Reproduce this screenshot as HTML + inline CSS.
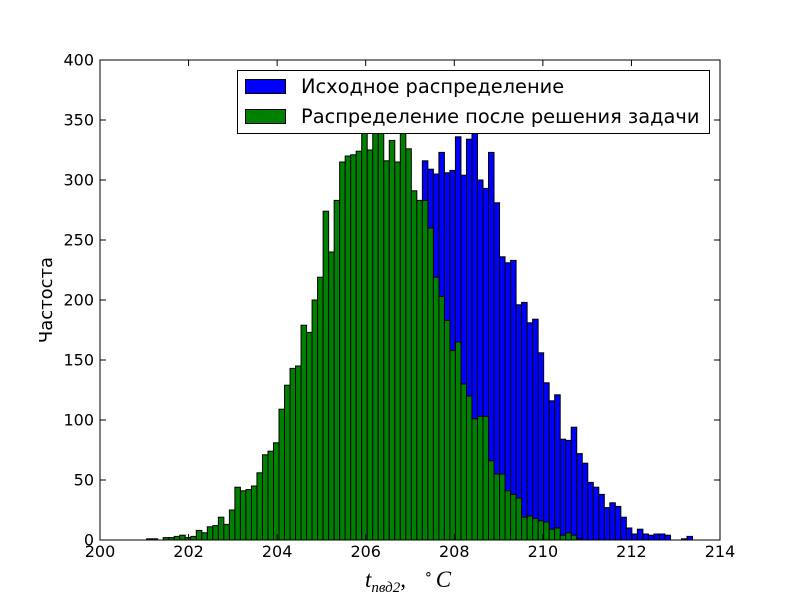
<!DOCTYPE html>
<html><head><meta charset="utf-8"><style>
body{margin:0;background:#fff}
svg{font-family:"DejaVu Sans","Liberation Sans",sans-serif}
</style></head><body>
<svg id="chart" width="800" height="600" xmlns="http://www.w3.org/2000/svg">
<rect width="800" height="600" fill="#fff"/>
<g id="bars"></g>
<g id="axes"></g>
<g>
<rect x="237.5" y="70.5" width="472" height="63" fill="#fff" stroke="#000" stroke-width="1"/>
<rect x="245.5" y="79.5" width="40" height="14" fill="#0000ff" stroke="#000"/>
<text x="301" y="93" font-size="19.4">Исходное распределение</text>
<rect x="245.5" y="109.5" width="40" height="14" fill="#008000" stroke="#000"/>
<text x="301" y="123" font-size="19.4">Распределение после решения задачи</text>
</g>
<text x="365" y="587" font-family="Liberation Serif,serif" font-style="italic" font-size="23">t<tspan font-size="15" dy="5">пвд2</tspan><tspan dy="-5" font-style="normal">,</tspan><tspan font-size="14" dy="-9" dx="18" font-style="normal">∘</tspan><tspan dy="9" dx="3">C</tspan></text>
<text transform="translate(52,300) rotate(-90)" text-anchor="middle" font-size="18">Частоста</text>
</svg>
<script>
const xTicks=[200,202,204,206,208,210,212,214];
const yTicks=[0,50,100,150,200,250,300,350,400];
const binStart=201.054, binWidth=0.1245;
const greenCounts=[1,1,0,2,2,3,4,2,3,8,6,11,12,19,13,25,44,41,42,45,56,71,74,81,109,129,143,145,179,173,200,219,274,240,283,315,320,321,324,345,325,345,350,316,333,315,342,326,291,283,283,260,219,203,183,158,165,130,120,101,103,103,66,55,55,41,38,35,19,20,18,16,15,9,10,4,6,4,1];
const blueCounts=[0,0,0,0,0,0,0,0,0,0,0,0,0,0,0,0,1,1,2,2,3,4,5,6,8,10,12,14,17,20,22,27,36,44,41,45,56,72,73,80,108,128,140,147,178,174,199,218,272,240,316,309,305,323,306,308,336,304,334,340,300,293,323,281,236,231,233,196,198,181,184,156,131,116,121,84,83,94,72,64,48,44,38,27,31,28,19,10,5,9,5,4,5,5,4,0,0,1,3];
const X0=100,X1=720,Y0=540,Y1=60;
const sx=v=>X0+(v-200)/14*(X1-X0);
const sy=v=>Y0-v/400*(Y0-Y1);
const NS="http://www.w3.org/2000/svg";
const bars=document.getElementById('bars');
function drawSeries(arr,color,name){
  arr.forEach((c,i)=>{
    if(c<=0)return;
    const r=document.createElementNS(NS,'rect');
    const xa=sx(binStart+i*binWidth), xb=sx(binStart+(i+1)*binWidth);
    const top=Math.max(sy(c),Y1);
    r.setAttribute('x',xa);r.setAttribute('width',xb-xa);
    r.setAttribute('y',top);r.setAttribute('height',Y0-top);
    r.setAttribute('fill',color);r.setAttribute('stroke','#000');r.setAttribute('stroke-width','1');
    
    
    bars.appendChild(r);
  });
}
drawSeries(blueCounts,'#0000ff','bar-original');
drawSeries(greenCounts,'#008000','bar-after');
const ax=document.getElementById('axes');
let h='<rect x="100" y="60" width="620" height="480" fill="none" stroke="#000" stroke-width="1"/>';
xTicks.forEach(t=>{const x=sx(t);
 h+=`<line x1="${x}" y1="540" x2="${x}" y2="534" stroke="#000"/><line x1="${x}" y1="60" x2="${x}" y2="66" stroke="#000"/>`;
 h+=`<text x="${x}" y="557" text-anchor="middle" font-size="16">${t}</text>`;});
yTicks.forEach(t=>{const y=sy(t);
 h+=`<line x1="100" y1="${y}" x2="106" y2="${y}" stroke="#000"/><line x1="720" y1="${y}" x2="714" y2="${y}" stroke="#000"/>`;
 h+=`<text x="94" y="${y+5.5}" text-anchor="end" font-size="16">${t}</text>`;});
ax.innerHTML=h;
</script>
</body></html>
